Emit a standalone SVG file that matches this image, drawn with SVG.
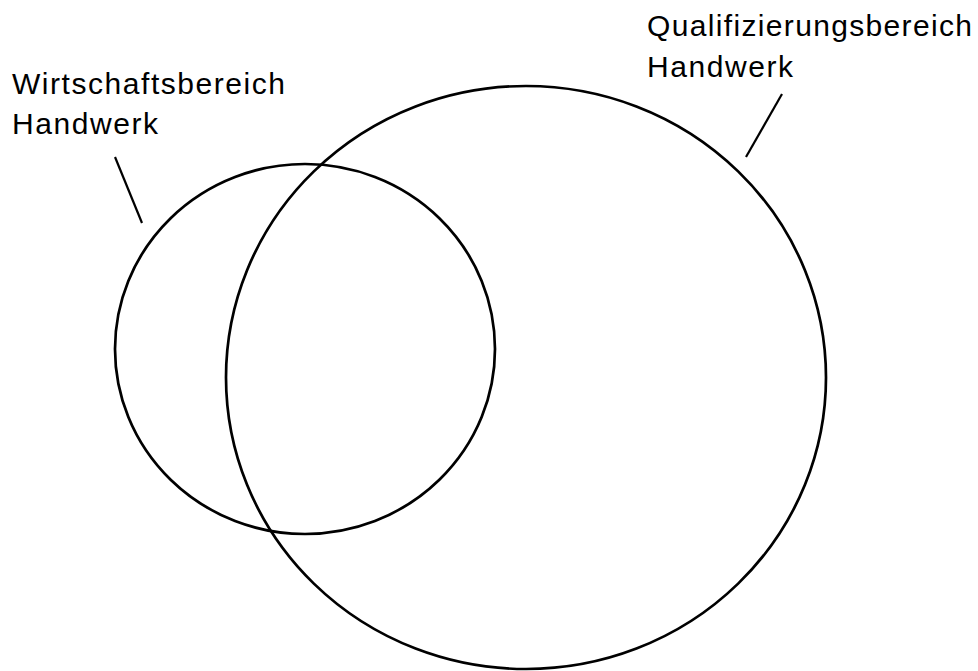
<svg xmlns="http://www.w3.org/2000/svg" width="978" height="671" viewBox="0 0 978 671">
<style>
.c{fill:none;stroke:#000;stroke-width:2.7}
.l{stroke:#000;stroke-width:2.2;fill:none}
.t{font-family:"Liberation Sans",Arial,sans-serif;font-size:30px;fill:#000}
</style>
<rect width="978" height="671" fill="#fff"/>
<g id="qualifizierungsbereich">
<ellipse class="c" cx="526" cy="377.5" rx="300" ry="291.5"/>
<text class="t" x="647" y="36" textLength="325" lengthAdjust="spacing">Qualifizierungsbereich</text>
<text class="t" x="647" y="77" textLength="146" lengthAdjust="spacing">Handwerk</text>
</g>
<g id="wirtschaftsbereich">
<ellipse class="c" cx="305" cy="349" rx="190" ry="185"/>
<text class="t" x="12" y="94" textLength="273" lengthAdjust="spacing">Wirtschaftsbereich</text>
<text class="t" x="12" y="134" textLength="146" lengthAdjust="spacing">Handwerk</text>
</g>
<g id="connectors">
<line class="l" x1="115" y1="157" x2="142" y2="223"/>
<line class="l" x1="782" y1="94" x2="746" y2="157"/>
</g>
</svg>
